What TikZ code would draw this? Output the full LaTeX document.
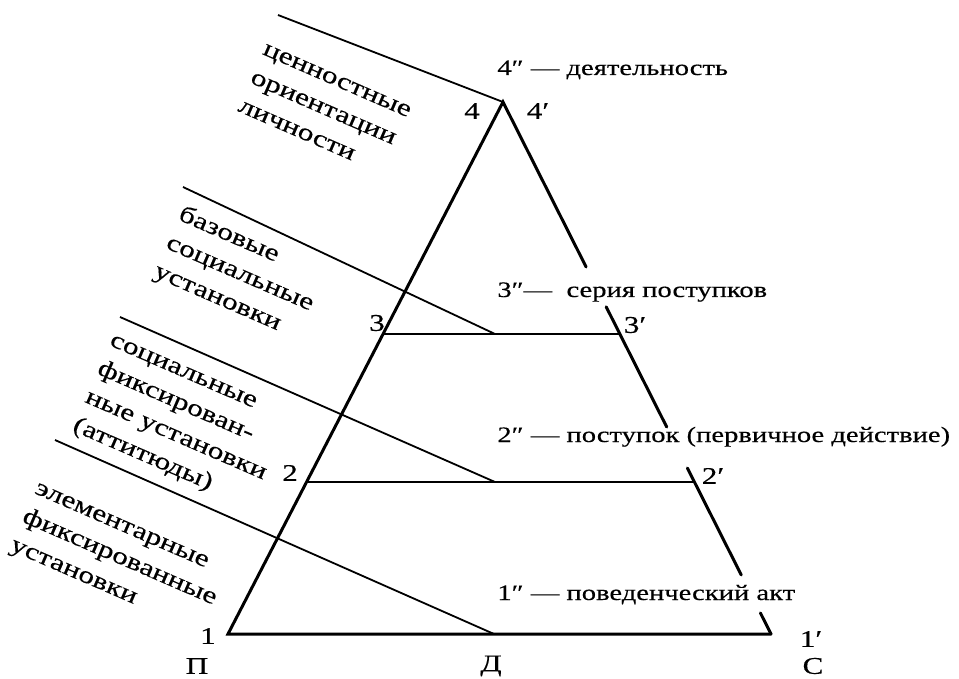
\documentclass[tikz,border=0pt]{standalone}
\usepackage{fontspec}
\setmainfont[FakeStretch=1.3, FakeBold=0.4]{Liberation Serif}
\usetikzlibrary{positioning}
\tikzstyle{side} = [line width=1.5pt, line cap=round]
\tikzstyle{level} = [line width=0.9pt]
\tikzstyle{slant} = [line width=0.9pt]
\tikzstyle{vlabel} = [inner sep=0pt, font=\fontsize{12}{14}\selectfont]
\tikzstyle{act} = [anchor=base west, inner sep=0pt, font=\fontsize{11}{12}\selectfont]
\tikzstyle{attit} = [anchor=north west, inner sep=0pt, rotate=-23.5, align=left,
    font=\fontsize{12}{15.5}\selectfont]

\begin{document}
\begin{tikzpicture}[x=0.5pt, y=-0.5pt]
\useasboundingbox (0,0) rectangle (959,679);
% vertices of the triangle
\coordinate (P) at (228,634);
\coordinate (S) at (771,634);
\coordinate (top) at (503,102);
\coordinate (D) at (494,634);
\path (P) -- (top) coordinate[pos=0.2857] (l2) coordinate[pos=0.5639] (l3);
\path (S) -- (top) coordinate[pos=0.2857] (r2) coordinate[pos=0.5639] (r3)
    coordinate[pos=0.0395] (sa) coordinate[pos=0.111] (sb)
    coordinate[pos=0.312] (sc) coordinate[pos=0.389] (sd)
    coordinate[pos=0.615] (se) coordinate[pos=0.690] (sf);
\coordinate (d2) at (495,482);
\coordinate (d3) at (495,334);
% sides and levels
\draw[side] (S) -- (P) -- (top) -- (sf);
\draw[side] (se) -- (sd);
\draw[side] (sc) -- (sb);
\draw[side] (sa) -- (S);
\draw[level] (l2) -- (r2);
\draw[level] (l3) -- (r3);
% slanted lines to the left
\coordinate (t4) at (278,15);
\coordinate (t3) at (183,187);
\coordinate (t2) at (120,317);
\coordinate (t1) at (55,440);
\draw[slant] (t4) -- (top);
\draw[slant] (t3) -- (d3);
\draw[slant] (t2) -- (d2);
\draw[slant] (t1) -- (D);
% labels of the vertices
\node[vlabel] (n1) at (208,636) {1};
\node[vlabel] (nP) at (197,666) {П};
\node[vlabel] (nD) at (491,666) {Д};
\node[vlabel] (n1p) at (811,639) {1′};
\node[vlabel] (nS) at (813,666) {С};
\node[vlabel] (n2) at (290,473) {2};
\node[vlabel] (n2p) at (713,476) {2′};
\node[vlabel] (n3) at (377,323) {3};
\node[vlabel] (n3p) at (635,325) {3′};
\node[vlabel] (n4) at (472,111) {4};
\node[vlabel] (n4p) at (538,111) {4′};
% acts on the right
\node[act] (act4) at (497,75) {4″ — деятельность};
\node[act] (act3) at (497,297) {3″—\ \ серия поступков};
\node[act] (act2) at (497,442) {2″ — поступок (первичное действие)};
\node[act] (act1) at (497,600) {1″ — поведенческий акт};
% attitudes on the left
\node[attit] (lab4) at (266,43) {ценностные\\ориентации\\личности};
\node[attit] (lab3) at (184,203) {базовые\\социальные\\установки};
\node[attit] (lab2) at (113,334) {социальные\\фиксирован-\\ные установки\\(аттитюды)};
\node[attit] (lab1) at (38,482) {элементарные\\фиксированные\\установки};
\end{tikzpicture}
\end{document}
